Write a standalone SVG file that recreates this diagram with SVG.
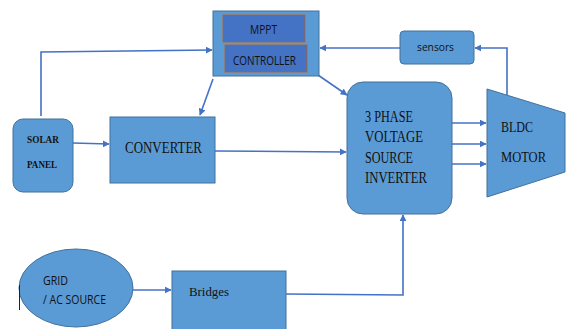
<svg xmlns="http://www.w3.org/2000/svg" width="566" height="329" viewBox="0 0 566 329">
  <style>
    .blk { fill: #5B9BD5; stroke: #41719C; stroke-width: 1; }
    .inner { fill: #4472C4; stroke: #C55A11; stroke-width: 0.8; }
    .wire { fill: none; stroke: #4472C4; stroke-width: 1.6; }
    .serif { font-family: "Liberation Serif", "Times New Roman", serif; fill: #111; }
    .sans { font-family: "Open Sans", "Liberation Sans", Arial, sans-serif; fill: #111; }
  </style>
  <defs>
    <marker id="arr" viewBox="0 0 10 10" refX="9" refY="5" markerWidth="7" markerHeight="7" orient="auto" markerUnits="userSpaceOnUse">
      <path d="M0,0 L10,5 L0,10 z" fill="#4472C4"/>
    </marker>
  </defs>

  <rect width="566" height="329" fill="#ffffff"/>

  <!-- connectors -->
  <g id="connectors">
    <polyline class="wire" points="41,116 41,52 212,50" marker-end="url(#arr)"/>
    <line class="wire" x1="213" y1="79" x2="200" y2="115" marker-end="url(#arr)"/>
    <line class="wire" x1="318" y1="75" x2="347" y2="95" marker-end="url(#arr)"/>
    <line class="wire" x1="400" y1="48" x2="320" y2="48" marker-end="url(#arr)"/>
    <polyline class="wire" points="507,95 507,48 475,48" marker-end="url(#arr)"/>
    <line class="wire" x1="73" y1="143" x2="109" y2="144" marker-end="url(#arr)"/>
    <line class="wire" x1="215" y1="151" x2="346" y2="152" marker-end="url(#arr)"/>
    <line class="wire" x1="452" y1="123" x2="486" y2="123" marker-end="url(#arr)"/>
    <line class="wire" x1="452" y1="144" x2="486" y2="144" marker-end="url(#arr)"/>
    <line class="wire" x1="452" y1="164" x2="486" y2="164" marker-end="url(#arr)"/>
    <line class="wire" x1="133" y1="290" x2="171" y2="290" marker-end="url(#arr)"/>
    <polyline class="wire" points="286,294 403,295 403,215" marker-end="url(#arr)"/>
  </g>

  <!-- MPPT controller -->
  <g id="mppt">
    <rect class="blk" x="213" y="11" width="106" height="65"/>
    <rect class="inner" x="223" y="15" width="82" height="27"/>
    <rect class="inner" x="225" y="45" width="82" height="27"/>
    <text class="sans" x="250" y="34" font-size="12" textLength="27" lengthAdjust="spacingAndGlyphs">MPPT</text>
    <text class="sans" x="233" y="65" font-size="12" textLength="63" lengthAdjust="spacingAndGlyphs">CONTROLLER</text>
  </g>

  <!-- sensors -->
  <g id="sensors">
    <rect class="blk" x="400" y="31" width="74" height="33" rx="4"/>
    <text class="sans" x="417" y="51" font-size="11" textLength="37" lengthAdjust="spacingAndGlyphs">sensors</text>
  </g>

  <!-- solar panel -->
  <g id="solar">
    <rect class="blk" x="13" y="119" width="60" height="73" rx="10"/>
    <text class="serif" x="27" y="143" font-size="11" font-weight="bold" textLength="32" lengthAdjust="spacingAndGlyphs">SOLAR</text>
    <text class="serif" x="27" y="168" font-size="11" font-weight="bold" textLength="30" lengthAdjust="spacingAndGlyphs">PANEL</text>
  </g>

  <!-- converter -->
  <g id="converter">
    <rect class="blk" x="110" y="117" width="105" height="66"/>
    <text class="serif" x="125" y="153" font-size="17" textLength="77" lengthAdjust="spacingAndGlyphs">CONVERTER</text>
  </g>

  <!-- inverter -->
  <g id="inverter">
    <rect class="blk" x="347" y="82" width="105" height="132" rx="16"/>
    <text class="serif" x="365" y="122" font-size="16" textLength="48" lengthAdjust="spacingAndGlyphs">3 PHASE</text>
    <text class="serif" x="365" y="142" font-size="16" textLength="58" lengthAdjust="spacingAndGlyphs">VOLTAGE</text>
    <text class="serif" x="365" y="163" font-size="16" textLength="48" lengthAdjust="spacingAndGlyphs">SOURCE</text>
    <text class="serif" x="365" y="183" font-size="16" textLength="62" lengthAdjust="spacingAndGlyphs">INVERTER</text>
  </g>

  <!-- BLDC motor -->
  <g id="motor">
    <polygon class="blk" points="487,89 565,113 565,172 487,197"/>
    <text class="serif" x="501" y="132" font-size="15" textLength="32" lengthAdjust="spacingAndGlyphs">BLDC</text>
    <text class="serif" x="501" y="162" font-size="15" textLength="45" lengthAdjust="spacingAndGlyphs">MOTOR</text>
  </g>

  <!-- grid source -->
  <g id="grid">
    <ellipse class="blk" cx="76" cy="288" rx="57" ry="39"/>
    <text class="sans" x="43" y="285" font-size="12" textLength="25" lengthAdjust="spacingAndGlyphs">GRID</text>
    <text class="sans" x="43" y="304" font-size="12" textLength="63" lengthAdjust="spacingAndGlyphs">/ AC SOURCE</text>
    <line x1="19.5" y1="285" x2="19.5" y2="310" stroke="#222" stroke-width="1"/>
  </g>

  <!-- bridges -->
  <g id="bridges">
    <rect class="blk" x="172" y="271" width="114" height="62"/>
    <text class="serif" x="189" y="296" font-size="13" textLength="40" lengthAdjust="spacingAndGlyphs">Bridges</text>
  </g>
</svg>
